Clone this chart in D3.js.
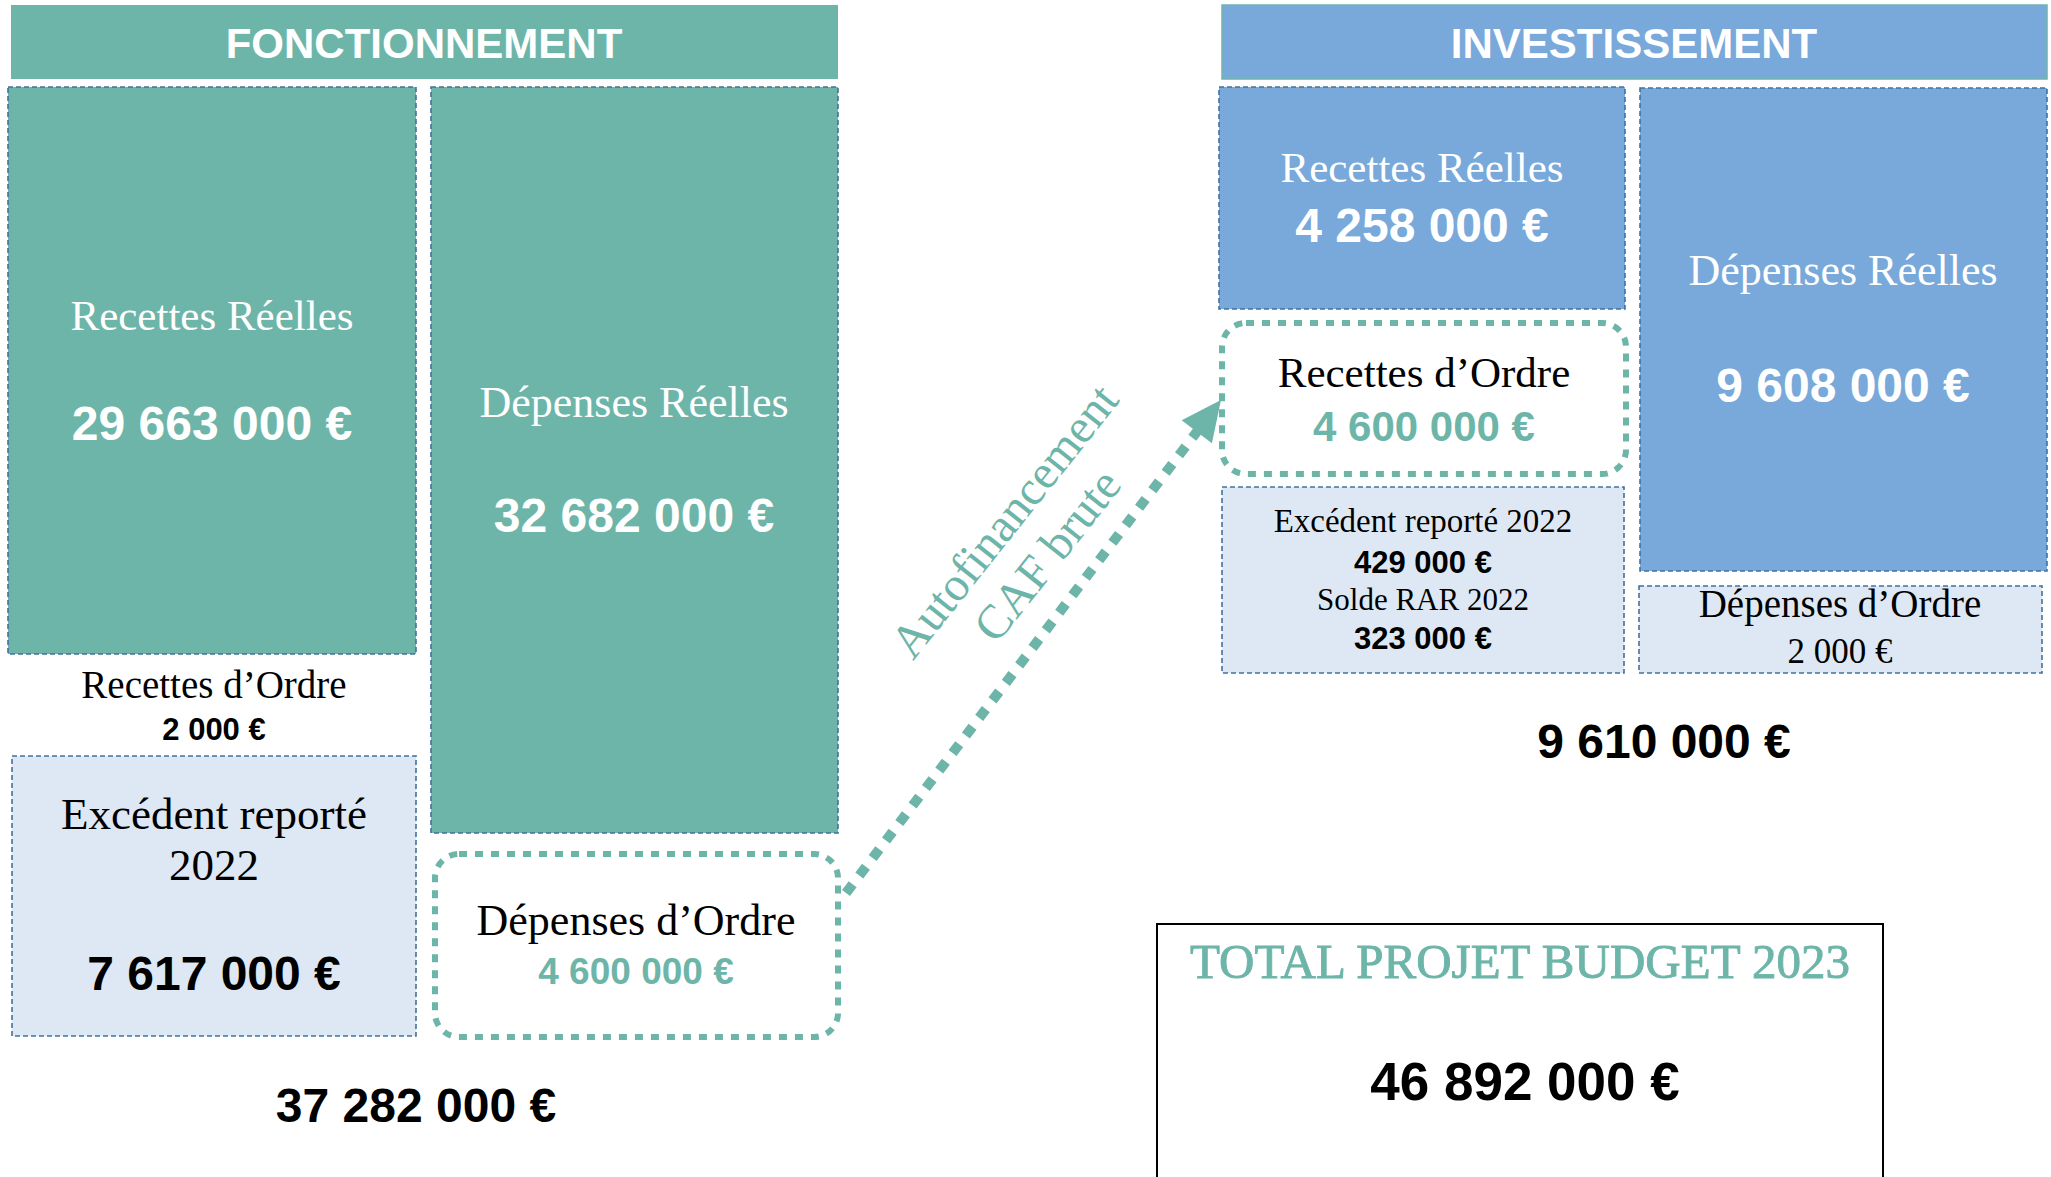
<!DOCTYPE html>
<html>
<head>
<meta charset="utf-8">
<script src="https://cdn.jsdelivr.net/npm/d3@7"></script>
<style>
  body { margin: 0; background: #fff; }
</style>
</head>
<body>
<script>
// --- data ---
var sections = ["FONCTIONNEMENT", "INVESTISSEMENT"]
var fonctLabels = ["Recettes Réelles", "Dépenses Réelles", "Recettes d’Ordre", "Excédent reporté", "2022", "Dépenses d’Ordre"]
var fonctValues = [29663000, 32682000, 2000, 7617000, 4600000]
var investLabels = ["Recettes Réelles", "Dépenses Réelles", "Recettes d’Ordre", "Excédent reporté 2022", "Solde RAR 2022", "Dépenses d’Ordre"]
var investValues = [4258000, 9608000, 4600000, 429000, 323000, 2000]
var totalValues = [37282000, 9610000, 46892000]
var arrowLabels = ["Autofinancement", "CAF brute"]
var totalLabel = "TOTAL PROJET BUDGET 2023"

// --- style ---
var teal = "#6db5a9", blue = "#78a9da", light = "#dee8f4", border = "#41719c"
var serif = "'Liberation Serif', 'Times New Roman', serif"
var sans = "'Liberation Sans', Arial, sans-serif"

var fr = d3.formatLocale({decimal: ",", thousands: "\u00a0", grouping: [3], currency: ["", "\u00a0€"]})
var euro = fr.format("$,.0f")

var svg = d3.select("body").append("svg")
    .attr("width", 2051)
    .attr("height", 1177)

svg.append("rect").attr("width", 2051).attr("height", 1177).attr("fill", "#fff")

function box(x, y, w, h, fill) {
  return svg.append("rect")
    .attr("x", x).attr("y", y).attr("width", w).attr("height", h)
    .attr("fill", fill)
    .attr("stroke", border)
    .attr("stroke-width", 1.6)
    .attr("stroke-dasharray", "5 3")
}

function dotted(x, y, w, h) {
  return svg.append("rect")
    .attr("x", x).attr("y", y).attr("width", w).attr("height", h)
    .attr("rx", 24).attr("ry", 24)
    .attr("fill", "#fff")
    .attr("stroke", teal)
    .attr("stroke-width", 6)
    .attr("stroke-dasharray", "8 8")
}

function txt(x, y, s, size, family, weight, color) {
  return svg.append("text")
    .attr("x", x).attr("y", y)
    .attr("text-anchor", "middle")
    .style("font-family", family)
    .style("font-size", size + "px")
    .style("font-weight", weight)
    .attr("fill", color)
    .text(s)
}

// headers
svg.append("rect").attr("x", 11).attr("y", 5).attr("width", 827).attr("height", 74).attr("fill", teal)
svg.append("rect").attr("x", 1222).attr("y", 5).attr("width", 825).attr("height", 74)
  .attr("fill", blue).attr("stroke", teal).attr("stroke-width", 1.5)
txt(424, 58, sections[0], 42, sans, "bold", "#fff")
txt(1634, 58, sections[1], 42, sans, "bold", "#fff")

// --- fonctionnement ---
box(8, 87, 408, 567, teal)
txt(212, 330, fonctLabels[0], 43, serif, "normal", "#fff")
txt(212, 440, euro(fonctValues[0]), 48, sans, "bold", "#fff")

box(431, 87, 407, 746, teal)
txt(634, 417, fonctLabels[1], 44, serif, "normal", "#fff")
txt(634, 532, euro(fonctValues[1]), 48, sans, "bold", "#fff")

txt(214, 698, fonctLabels[2], 39, serif, "normal", "#000")
txt(214, 740, euro(fonctValues[2]), 31, sans, "bold", "#000")

box(12, 756, 404, 280, light)
txt(214, 829, fonctLabels[3], 45, serif, "normal", "#000")
txt(214, 880, fonctLabels[4], 45, serif, "normal", "#000")
txt(214, 990, euro(fonctValues[3]), 48, sans, "bold", "#000")

dotted(435, 854, 403, 183)
txt(636, 935, fonctLabels[5], 44, serif, "normal", "#000")
txt(636, 984, euro(fonctValues[4]), 37, sans, "bold", teal)

txt(416, 1122, euro(totalValues[0]), 48, sans, "bold", "#000")

// --- investissement ---
box(1219, 87, 406, 222, blue)
txt(1422, 182, investLabels[0], 43, serif, "normal", "#fff")
txt(1422, 242, euro(investValues[0]), 48, sans, "bold", "#fff")

box(1640, 88, 407, 483, blue)
txt(1843, 285, investLabels[1], 44, serif, "normal", "#fff")
txt(1843, 402, euro(investValues[1]), 48, sans, "bold", "#fff")

dotted(1222, 323, 404, 151)
txt(1424, 387, investLabels[2], 43, serif, "normal", "#000")
txt(1424, 441, euro(investValues[2]), 42, sans, "bold", teal)

box(1222, 487, 402, 186, light)
txt(1423, 532, investLabels[3], 33, serif, "normal", "#000")
txt(1423, 573, euro(investValues[3]), 31, sans, "bold", "#000")
txt(1423, 610, investLabels[4], 31, serif, "normal", "#000")
txt(1423, 649, euro(investValues[4]), 31, sans, "bold", "#000")

box(1639, 586, 403, 87, light)
txt(1840, 617, investLabels[5], 39, serif, "normal", "#000")
txt(1840, 663, euro(investValues[5]), 35, serif, "normal", "#000")

txt(1664, 758, euro(totalValues[1]), 48, sans, "bold", "#000")

// --- arrow (autofinancement) ---
var start = [846, 893], tip = [1221, 400]
var dx = tip[0] - start[0], dy = tip[1] - start[1]
var len = Math.sqrt(dx * dx + dy * dy)
var ux = dx / len, uy = dy / len
var px = -uy, py = ux
var headLen = 40, headHalf = 19
var end = [tip[0] - ux * (headLen - 4), tip[1] - uy * (headLen - 4)]

svg.append("line")
  .attr("x1", start[0]).attr("y1", start[1])
  .attr("x2", end[0]).attr("y2", end[1])
  .attr("stroke", teal)
  .attr("stroke-width", 10)
  .attr("stroke-dasharray", "11 11")

var base = [tip[0] - ux * headLen, tip[1] - uy * headLen]
svg.append("path")
  .attr("d", d3.line()([
    tip,
    [base[0] + px * headHalf, base[1] + py * headHalf],
    [base[0] - px * headHalf, base[1] - py * headHalf]
  ]) + "Z")
  .attr("fill", teal)

var lbl = svg.append("g")
  .attr("transform", "translate(1027,539) rotate(-51.5)")
lbl.selectAll("text")
  .data(arrowLabels)
  .enter()
  .append("text")
    .attr("x", 0)
    .attr("y", function (d, i) { return i === 0 ? -13 : 42 })
    .attr("text-anchor", "middle")
    .style("font-family", serif)
    .style("font-size", "48px")
    .attr("fill", teal)
    .text(function (d) { return d })

// --- total ---
svg.append("rect")
  .attr("x", 1157).attr("y", 924).attr("width", 726).attr("height", 300)
  .attr("fill", "#fff").attr("stroke", "#000").attr("stroke-width", 2)
txt(1520, 978, totalLabel, 49, serif, "normal", teal)
  .attr("stroke", teal).attr("stroke-width", 0.9)
txt(1525, 1100, euro(totalValues[2]), 53, sans, "bold", "#000")
</script>
</body>
</html>
